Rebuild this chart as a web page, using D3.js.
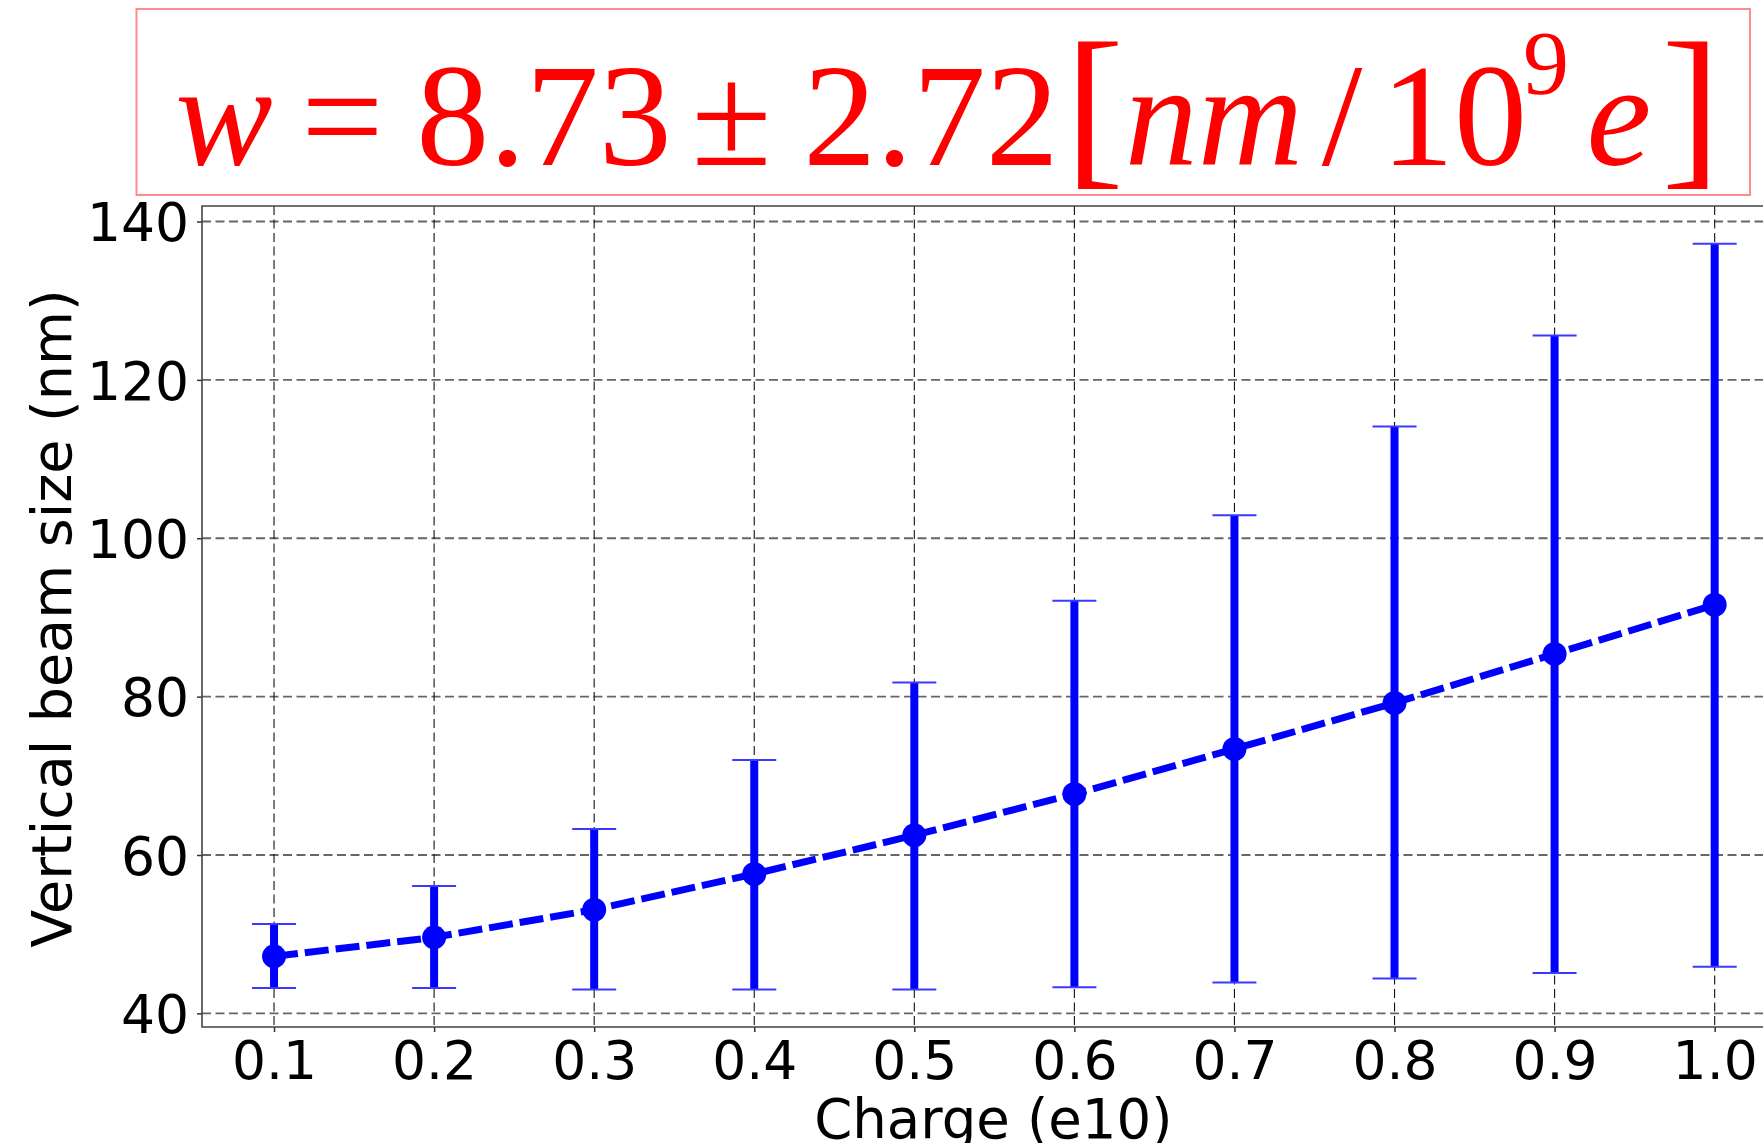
<!DOCTYPE html>
<html>
<head>
<meta charset="utf-8">
<script src="https://cdn.jsdelivr.net/npm/d3@7"></script>
<style>
  html, body { margin: 0; padding: 0; background: #fff; }
  svg { display: block; }
</style>
</head>
<body>
<svg id="chart" width="1763" height="1143"></svg>
<script>
// data
var charge = [0.1, 0.2, 0.3, 0.4, 0.5, 0.6, 0.7, 0.8, 0.9, 1.0];
var beamSize = [47.2, 49.6, 53.1, 57.6, 62.5, 67.7, 73.4, 79.2, 85.4, 91.6];
var errUpper = [51.3, 56.1, 63.3, 72.0, 81.8, 92.1, 102.9, 114.1, 125.6, 137.2];
var errLower = [43.2, 43.2, 43.0, 43.0, 43.0, 43.3, 43.9, 44.4, 45.1, 45.9];
var yTicks = [40, 60, 80, 100, 120, 140];
var xLabel = "Charge (e10)";
var yLabel = "Vertical beam size (nm)";

var svg = d3.select("#chart");

var dim = { left: 202, right: 1786.7, top: 206, bottom: 1027 };

var xScale = d3.scaleLinear()
	.domain([0.055, 1.045])
	.range([dim.left, dim.right]);

var yScale = d3.scaleLinear()
	.domain([38.28, 141.96])
	.range([dim.bottom, dim.top]);

var fontTick = "'DejaVu Sans', sans-serif";

svg.append("clipPath").attr("id", "plotclip")
	.append("rect")
	.attr("x", dim.left).attr("y", dim.top)
	.attr("width", dim.right - dim.left).attr("height", dim.bottom - dim.top);

// grid
var grid = svg.append("g");
grid.selectAll("line.gy").data(yTicks).enter().append("line")
	.attr("x1", dim.left).attr("x2", dim.right)
	.attr("y1", d => yScale(d)).attr("y2", d => yScale(d))
	.attr("stroke", "#666").attr("stroke-width", 1.8)
	.attr("stroke-dasharray", "9,4.5");
grid.selectAll("line.gx").data(charge).enter().append("line")
	.attr("x1", d => xScale(d)).attr("x2", d => xScale(d))
	.attr("y1", dim.top).attr("y2", dim.bottom)
	.attr("stroke", "#111").attr("stroke-width", 1.1)
	.attr("stroke-dasharray", "9,4.5");

// axes
var xAxis = d3.axisBottom(xScale)
	.tickValues(charge)
	.tickFormat(d3.format(".1f"))
	.tickSize(5)
	.tickPadding(9);

var yAxis = d3.axisLeft(yScale)
	.tickValues(yTicks)
	.tickFormat(d3.format("d"))
	.tickSize(5)
	.tickPadding(8);

var gx = svg.append("g")
	.attr("transform", `translate(0,${dim.bottom})`)
	.call(xAxis);
var gy = svg.append("g")
	.attr("transform", `translate(${dim.left},0)`)
	.call(yAxis);

[gx, gy].forEach(function (g) {
	g.select(".domain").remove();
	g.selectAll(".tick line").attr("stroke", "#333").attr("stroke-width", 1.5);
	g.selectAll(".tick text")
		.attr("fill", "#000")
		.style("font-family", fontTick)
		.style("font-size", "53.5px");
});
gy.selectAll(".tick text").attr("dy", "0.36em");

// spines
svg.append("path")
	.attr("d", `M${dim.right},${dim.top}H${dim.left}V${dim.bottom}H${dim.right}`)
	.attr("fill", "none").attr("stroke", "#444").attr("stroke-width", 1.6);

// axis labels
svg.append("text")
	.attr("x", (dim.left + dim.right) / 2 - 1).attr("y", 1138)
	.attr("text-anchor", "middle")
	.style("font-family", fontTick).style("font-size", "54.5px")
	.text(xLabel);

svg.append("text")
	.attr("transform", `translate(71,${(dim.top + dim.bottom) / 2 + 2}) rotate(-90)`)
	.attr("text-anchor", "middle")
	.style("font-family", fontTick).style("font-size", "55.5px")
	.text(yLabel);

// series
var plot = svg.append("g").attr("clip-path", "url(#plotclip)");

var line = d3.line()
	.x((d, i) => xScale(charge[i]))
	.y(d => yScale(d));

plot.append("path")
	.datum(beamSize)
	.attr("d", line)
	.attr("fill", "none")
	.attr("stroke", "#0000ff")
	.attr("stroke-width", 7)
	.attr("stroke-dasharray", "24,7");

plot.selectAll("line.bar").data(charge).enter().append("line")
	.attr("x1", d => xScale(d)).attr("x2", d => xScale(d))
	.attr("y1", (d, i) => yScale(errLower[i]))
	.attr("y2", (d, i) => yScale(errUpper[i]))
	.attr("stroke", "#0000ff").attr("stroke-width", 8);

var capHalf = 22;
[errLower, errUpper].forEach(function (arr) {
	plot.selectAll(null).data(charge).enter().append("line")
		.attr("x1", d => xScale(d) - capHalf).attr("x2", d => xScale(d) + capHalf)
		.attr("y1", (d, i) => yScale(arr[i]))
		.attr("y2", (d, i) => yScale(arr[i]))
		.attr("stroke", "#3a3aff").attr("stroke-width", 2);
});

plot.selectAll("circle").data(charge).enter().append("circle")
	.attr("cx", d => xScale(d))
	.attr("cy", (d, i) => yScale(beamSize[i]))
	.attr("r", 12)
	.attr("fill", "#0000ff");

// title box
svg.append("rect")
	.attr("x", 136.5).attr("y", 9)
	.attr("width", 1750 - 136.5).attr("height", 195 - 9)
	.attr("fill", "none")
	.attr("stroke", "#ff8c8c").attr("stroke-width", 2);

var titleParts = [
	{ t: "w", x: 224, it: true, s: 146, y: 165 },
	{ t: "=", x: 342.5, it: false, s: 146, y: 165 },
	{ t: "8.73", x: 544, it: false, s: 146, y: 165 },
	{ t: "±", x: 731.5, it: false, s: 146, y: 165 },
	{ t: "2.72", x: 931, it: false, s: 146, y: 165 },
	{ t: "[", x: 1094.6, it: false, s: 177, y: 165 },
	{ t: "nm", x: 1214, it: true, s: 146, y: 165 },
	{ t: "/", x: 1342, it: false, s: 146, y: 165 },
	{ t: "10", x: 1454, it: false, s: 146, y: 165 },
	{ t: "9", x: 1546, it: false, s: 92, y: 94 },
	{ t: "e", x: 1619, it: true, s: 146, y: 165 },
	{ t: "]", x: 1691, it: false, s: 177, y: 165 }
];

svg.append("g").selectAll("text").data(titleParts).enter().append("text")
	.attr("x", d => d.x).attr("y", d => d.y)
	.attr("text-anchor", "middle")
	.attr("fill", "#ff0000")
	.style("font-family", "'Liberation Serif', serif")
	.style("font-style", d => d.it ? "italic" : "normal")
	.style("font-size", d => d.s + "px")
	.text(d => d.t);
</script>
</body>
</html>
